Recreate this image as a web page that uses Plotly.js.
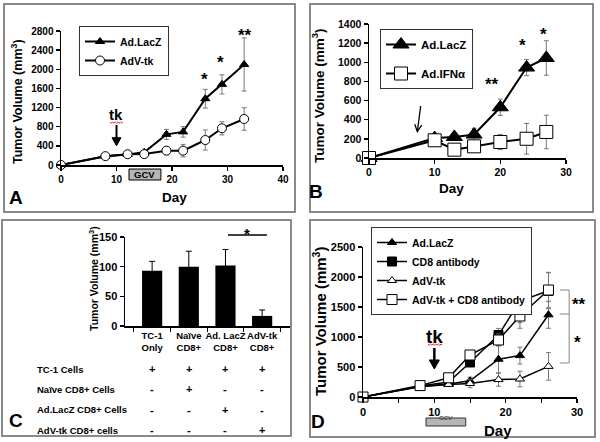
<!DOCTYPE html>
<html><head><meta charset="utf-8">
<script src="https://cdn.plot.ly/plotly-3.0.1.min.js"></script>
<style>html,body{margin:0;padding:0;background:#fff}#chart{width:600px;height:442px}</style>
</head><body><div id="chart"></div>
<script>
// ---------- Panel A ----------
const daysA = [0, 8, 12, 15, 19, 22, 26, 29, 33];
const lacZA = [0, 185, 220, 265, 640, 692, 1385, 1685, 2100];
const lacZAErr = [0, 20, 25, 40, 105, 110, 195, 200, 555];
const tkA = [0, 185, 225, 228, 300, 300, 522, 767, 961];
const tkAErr = [0, 20, 25, 55, 85, 130, 210, 138, 235];
// ---------- Panel B ----------
const daysB = [0, 10, 13, 16, 20, 24, 27];
const lacZB = [0, 208, 220, 245, 530, 945, 1045];
const lacZBErr = [0, 25, 30, 65, 85, 85, 180];
const ifnB = [0, 185, 87, 122, 167, 201, 272];
const ifnBErr = [0, 30, 35, 45, 80, 160, 175];
// ---------- Panel C ----------
const catsC = ['TC-1<br>Only', 'Naïve<br>CD8+', 'Ad. LacZ<br>CD8+', 'AdV-tk<br>CD8+'];
const valsC = [93, 100, 102, 17];
const errC = [16, 26, 27, 10];
const rowLabelsC = ['TC-1 Cells', 'Naïve CD8+ Cells', 'Ad.LacZ CD8+ Cells', 'AdV-tk CD8+ cells'];
const rowMarksC = [['+', '+', '+', '+'], ['-', '+', '-', '-'], ['-', '-', '+', '-'], ['-', '-', '-', '+']];
// ---------- Panel D ----------
const daysD = [0, 8, 12, 15, 19, 22, 26];
const lacZD = [0, 175, 215, 270, 630, 690, 1370];
const lacZDErr = [0, 20, 40, 60, 230, 140, 225];
const cd8D = [0, 185, 250, 575, 1033, 1600, 1770];
const cd8DErr = [0, 20, 40, 50, 110, 362, 300];
const tkD = [0, 170, 210, 225, 290, 300, 510];
const tkDErr = [0, 20, 30, 70, 110, 130, 230];
const tkCd8D = [0, 190, 320, 700, 950, 1350, 1783];
const tkCd8DErr = [0, 20, 40, 60, 100, 205, 295];

const F = 'Liberation Sans, Arial, sans-serif';
const W = 600, H = 442;
const px = x => x / W, py = y => 1 - y / H;
const bold = s => ({family: F, size: s, color: '#000', weight: 'bold'});

// panel plot-area geometry (pixels) and value ranges
const GA = {l: 61, r: 283, b: 165, t: 31, xr: [0, 40], yr: [0, 2800]};
const GB = {l: 369, r: 566, b: 158, t: 24, xr: [0, 30], yr: [0, 1400]};
const GC = {l: 125, r: 290, b: 326, t: 237, xr: [-0.74, 3.76], yr: [0, 150]};
const GD = {l: 363, r: 577, b: 397, t: 247, xr: [0, 30], yr: [0, 2500]};
const toPx = (G, xv, yv) => [G.l + (xv - G.xr[0]) / (G.xr[1] - G.xr[0]) * (G.r - G.l),
                             G.b - (yv - G.yr[0]) / (G.yr[1] - G.yr[0]) * (G.b - G.t)];

function errBar(arr, col) {
  return {type: 'data', array: arr, visible: true, color: col || '#777', thickness: 1, width: 2.5};
}
function line(x, y, err, xa, ya, name, leg, sym, size, fill, lw, grp) {
  return {x: x, y: y, xaxis: xa, yaxis: ya, name: name, legend: leg, legendgroup: grp,
    mode: 'lines+markers', cliponaxis: false,
    line: {color: '#000', width: lw},
    marker: {symbol: sym, size: size, color: fill, line: {color: '#000', width: 1}},
    error_y: errBar(err)};
}

const traces = [
  line(daysA, lacZA, lacZAErr, 'x', 'y', 'Ad.LacZ', 'legend', 'triangle-up', 8, '#000', 2, 'a1'),
  line(daysA, tkA, tkAErr, 'x', 'y', 'AdV-tk', 'legend', 'circle', 9, '#fff', 2, 'a2'),
  line(daysB, lacZB, lacZBErr, 'x2', 'y2', 'Ad.LacZ', 'legend2', 'triangle-up', 14, '#000', 2, 'b1'),
  line(daysB, ifnB, ifnBErr, 'x2', 'y2', 'Ad.IFNα', 'legend2', 'square', 13, '#fff', 2, 'b2'),
  {type: 'bar', x: catsC, y: valsC, xaxis: 'x3', yaxis: 'y3', width: 0.55, showlegend: false,
   marker: {color: '#000'}, error_y: {type: 'data', array: errC, color: '#000', thickness: 1, width: 3}},
  line(daysD, lacZD, lacZDErr, 'x4', 'y4', 'Ad.LacZ', 'legend3', 'triangle-up', 8, '#000', 1.5, 'd1'),
  line(daysD, cd8D, cd8DErr, 'x4', 'y4', 'CD8 antibody', 'legend3', 'square', 9, '#000', 1.5, 'd2'),
  line(daysD, tkD, tkDErr, 'x4', 'y4', 'AdV-tk', 'legend3', 'triangle-up', 8, '#fff', 1.5, 'd3'),
  line(daysD, tkCd8D, tkCd8DErr, 'x4', 'y4', 'AdV-tk + CD8 antibody', 'legend3', 'square', 10, '#fff', 1.5, 'd4')
];

function axis(G, dtick, anchor, fs, extra) {
  return Object.assign({domain: [px(G.l), px(G.r)], range: G.xr, dtick: dtick, anchor: anchor,
    showline: true, linecolor: '#000', linewidth: 1.5, ticks: 'outside', ticklen: 4,
    tickwidth: 1.5, tickcolor: '#000', showgrid: false, zeroline: false, fixedrange: true,
    tickfont: bold(fs)}, extra || {});
}
function yaxis(G, dtick, anchor, fs, extra) {
  return Object.assign(axis(G, dtick, anchor, fs), {domain: [py(G.b), py(G.t)], range: G.yr}, extra || {});
}

const annotations = [];
const shapes = [];
function txt(x, y, text, size, opts) {
  annotations.push(Object.assign({xref: 'paper', yref: 'paper', x: px(x), y: py(y), text: text,
    showarrow: false, font: bold(size), xanchor: 'center', yanchor: 'middle'}, opts || {}));
}
function star(G, xv, yv, text) {
  const p = toPx(G, xv, yv);
  txt(p[0], p[1] + 4, text, 17);
}
function box(x0, y0, x1, y1) {
  shapes.push({type: 'rect', xref: 'paper', yref: 'paper', x0: px(x0), x1: px(x1), y0: py(y1), y1: py(y0),
    line: {color: '#8a8a8a', width: 2}, layer: 'below'});
}
function squiggle(x0, x1, y) {
  let p = 'M ' + px(x0) + ',' + py(y);
  let up = true;
  for (let x = x0 + 1.3; x <= x1; x += 1.3) { p += ' L ' + px(x) + ',' + py(y + (up ? 1.2 : 0)); up = !up; }
  shapes.push({type: 'path', xref: 'paper', yref: 'paper', path: p, line: {color: '#e02020', width: 1}});
}
function arrow(G, xs, ys, xe, ye, w, hl, hw, filled) {
  const a = toPx(G, xs, ys), b = toPx(G, xe, ye);
  const dx = b[0] - a[0], dy = b[1] - a[1], L = Math.hypot(dx, dy);
  const ux = dx / L, uy = dy / L, nx = -uy, ny = ux;
  const bx = b[0] - ux * hl, by = b[1] - uy * hl;
  const P = (x, y) => px(x) + ',' + py(y);
  shapes.push({type: 'path', xref: 'paper', yref: 'paper',
    path: 'M ' + P(a[0], a[1]) + ' L ' + P(filled ? bx : b[0], filled ? by : b[1]), line: {color: '#000', width: w}});
  if (filled) {
    shapes.push({type: 'path', xref: 'paper', yref: 'paper', fillcolor: '#000',
      path: 'M ' + P(bx + nx * hw, by + ny * hw) + ' L ' + P(b[0], b[1]) + ' L ' + P(bx - nx * hw, by - ny * hw) + ' Z',
      line: {color: '#000', width: 1}});
  } else {
    shapes.push({type: 'path', xref: 'paper', yref: 'paper',
      path: 'M ' + P(bx + nx * hw, by + ny * hw) + ' L ' + P(b[0], b[1]) + ' L ' + P(bx - nx * hw, by - ny * hw),
      line: {color: '#000', width: w}});
  }
}

// panel borders
box(4, 4, 295, 212); box(310, 4, 593, 212); box(2, 220, 291, 436); box(310, 220, 595, 437);

// axis titles & panel letters
const ytitle = 'Tumor Volume (mm<sup>3</sup>)';
txt(17, 102, ytitle, 12.5, {textangle: -90});
txt(174, 197, 'Day', 13.5);
txt(16, 197, 'A', 19);
txt(318, 96, ytitle, 13.5, {textangle: -90});
txt(451, 188, 'Day', 13.5);
txt(316, 191, 'B', 19);
txt(93, 279, ytitle, 10.5, {textangle: -90});
txt(16, 420, 'C', 19);
txt(319, 322, ytitle, 15, {textangle: -90});
txt(498, 430, 'Day', 15);
txt(318, 421, 'D', 19);

// Panel A decorations
shapes.push({type: 'rect', xref: 'x', yref: 'paper', x0: 12.25, x1: 18, y0: py(180), y1: py(169),
  fillcolor: '#b5b5b5', line: {color: '#000', width: 1}});
annotations.push({xref: 'x', yref: 'paper', x: 15.1, y: py(174.5), text: 'GCV', showarrow: false, font: bold(9.5)});
txt(toPx(GA, 10, 0)[0], 115, 'tk', 15);
squiggle(110, 123, 122);
arrow(GA, 10, 836, 10, 403, 2, 8, 4.5, true);
star(GA, 25.8, 1880, '*');
star(GA, 28.8, 2229, '*');
star(GA, 33.2, 2786, '**');

// Panel B decorations
arrow(GB, 7.87, 543, 7.36, 275, 1.3, 7, 3.5, false);
star(GB, 18.8, 808, '**');
star(GB, 23.4, 1215, '*');
star(GB, 26.5, 1337, '*');

// Panel C decorations
shapes.push({type: 'line', xref: 'x3', yref: 'paper', x0: 2.07, x1: 3.13, y0: py(235), y1: py(235),
  line: {color: '#000', width: 1.5}});
txt(toPx(GC, 2.6, 0)[0], 233, '*', 15);
rowLabelsC.forEach((lab, r) => {
  const y = 369 + r * 20.4;
  txt(35, y, lab, 9.5, {xanchor: 'left'});
  rowMarksC[r].forEach((m, c) => {
    annotations.push({xref: 'x3', yref: 'paper', x: c, y: py(y), text: m, showarrow: false,
      font: bold(11), xanchor: 'center', yanchor: 'middle'});
  });
});

// Panel D decorations
shapes.push({type: 'rect', xref: 'x4', yref: 'paper', x0: 8.83, x1: 14.4, y0: py(426), y1: py(418),
  fillcolor: '#b5b5b5', line: {color: '#333', width: 1}});
annotations.push({xref: 'x4', yref: 'paper', x: 11.6, y: py(422.5), text: '<i>GCV</i>', showarrow: false,
  font: {family: F, size: 6, color: '#222'}});
txt(toPx(GD, 10, 0)[0], 336, 'tk', 19);
squiggle(428, 443, 344);
arrow(GD, 10, 817, 10, 467, 2.5, 9, 5, true);
shapes.push({type: 'path', xref: 'x4', yref: 'y4',
  path: 'M 27.6,1783 L 28.9,1783 L 28.9,567 L 27.6,567 M 27.6,1383 L 28.9,1383',
  line: {color: '#888', width: 1}});
txt(579, 304, '**', 17);
txt(577, 342, '*', 17);

const legBase = {xanchor: 'left', yanchor: 'top', bgcolor: '#fff', bordercolor: '#333', borderwidth: 1,
  traceorder: 'grouped', itemclick: false, itemdoubleclick: false};

const layout = {
  width: W, height: H, margin: {l: 0, r: 0, t: 0, b: 0}, paper_bgcolor: '#fff', plot_bgcolor: 'rgba(0,0,0,0)',
  showlegend: true,
  xaxis: axis(GA, 10, 'y', 10),
  yaxis: yaxis(GA, 400, 'x', 10),
  xaxis2: axis(GB, 10, 'y2', 10.5),
  yaxis2: yaxis(GB, 200, 'x2', 10.5),
  xaxis3: axis(GC, null, 'y3', 9.5,
    {type: 'category', tickson: 'boundaries', ticklen: 4, tickwidth: 1, tickangle: 0}),
  yaxis3: yaxis(GC, 50, 'x3', 11),
  xaxis4: axis(GD, 10, 'y4', 11,
    {minor: {dtick: 5, ticks: 'outside', ticklen: 4, tickwidth: 1, tickcolor: '#000'}}),
  yaxis4: yaxis(GD, 500, 'x4', 11),
  legend: Object.assign({}, legBase, {x: px(79), y: py(26), font: bold(10.5), tracegroupgap: 0}),
  legend2: Object.assign({}, legBase, {x: px(380), y: py(29), font: bold(11.5), tracegroupgap: 10}),
  legend3: Object.assign({}, legBase, {x: px(371), y: py(227), font: bold(10.5), tracegroupgap: 0}),
  shapes: shapes,
  annotations: annotations
};

Plotly.newPlot('chart', traces, layout, {staticPlot: true, displayModeBar: false}).then(gd => {
  // drop empty placeholder text nodes (unused axis titles etc.)
  gd.querySelectorAll('text').forEach(t => { if (!t.textContent.trim()) t.remove(); });
});
</script>
</body></html>
